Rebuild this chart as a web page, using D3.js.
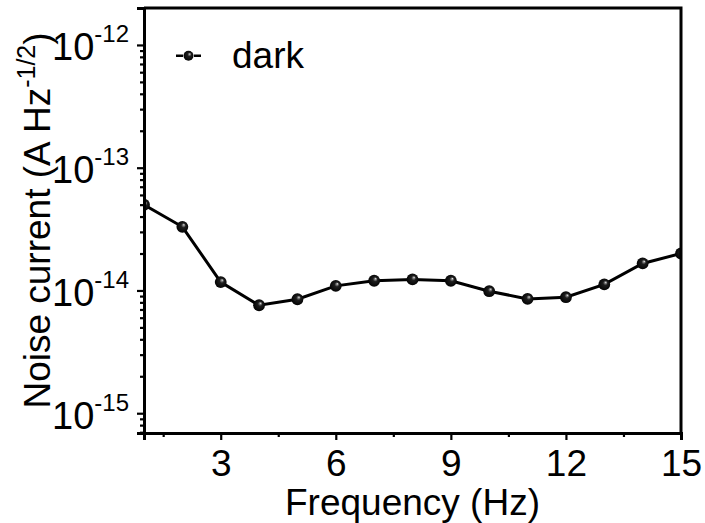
<!DOCTYPE html>
<html>
<head>
<meta charset="utf-8">
<script src="https://cdn.jsdelivr.net/npm/d3@7"></script>
<style>
  body { margin: 0; background: #fff; }
  svg { display: block; font-family: "Liberation Sans", Arial, sans-serif; }
</style>
</head>
<body>
<div id="chart"></div>
<script>
// data
const frequency = [1, 2, 3, 4, 5, 6, 7, 8, 9, 10, 11, 12, 13, 14, 15];
const noiseDark = [4.99e-14, 3.30e-14, 1.17e-14, 7.58e-15, 8.48e-15, 1.09e-14, 1.20e-14, 1.23e-14,
                   1.20e-14, 9.86e-15, 8.53e-15, 8.81e-15, 1.12e-14, 1.66e-14, 2.0e-14];
const xTicks = [3, 6, 9, 12, 15];
const xMinorTicks = [1.5, 4.5, 7.5, 10.5, 13.5];
const yExponents = [-15, -14, -13, -12];
const seriesName = "dark";

// set the dimensions and margins of the graph
const margin = {top: 8, right: 24, bottom: 90, left: 144},
  width = 705 - margin.left - margin.right,
  height = 523 - margin.top - margin.bottom;

const svg = d3.select("#chart")
  .append("svg")
    .attr("width", 705)
    .attr("height", 523);

const g = svg.append("g")
  .attr("transform", `translate(${margin.left},${margin.top})`);

const x = d3.scaleLinear()
  .domain([1, 15])
  .range([0, width]);

const y = d3.scaleLog()
  .domain([6.9e-16, 2.0e-12])
  .range([height, 0]);

// gradient for the shiny ball markers
const defs = svg.append("defs");
const grad = defs.append("radialGradient")
  .attr("id", "ball")
  .attr("cx", "0.5").attr("cy", "0.5").attr("r", "0.55")
  .attr("fx", "0.64").attr("fy", "0.32");
grad.append("stop").attr("offset", "0%").attr("stop-color", "#ffffff");
grad.append("stop").attr("offset", "12%").attr("stop-color", "#8c8c8c");
grad.append("stop").attr("offset", "35%").attr("stop-color", "#1e1e1e");
grad.append("stop").attr("offset", "100%").attr("stop-color", "#000");

defs.append("clipPath").attr("id", "plotclip")
  .append("rect").attr("width", width).attr("height", height);

// line + markers
const line = d3.line()
  .x((d, i) => x(frequency[i]))
  .y(d => y(d));

const plot = g.append("g").attr("clip-path", "url(#plotclip)");
plot.append("path")
  .datum(noiseDark)
  .attr("fill", "none")
  .attr("stroke", "#000")
  .attr("stroke-width", 3)
  .attr("d", line);

plot.selectAll("circle")
  .data(noiseDark)
  .join("circle")
    .attr("cx", (d, i) => x(frequency[i]))
    .attr("cy", d => y(d))
    .attr("r", 5.9)
    .attr("fill", "url(#ball)");

// X axis (major + minor)
const xAxis = g.append("g")
  .attr("transform", `translate(0,${height})`)
  .call(d3.axisBottom(x).tickValues(xTicks).tickSize(7).tickPadding(10).tickFormat(d3.format("d")));
xAxis.append("g")
  .call(d3.axisBottom(x).tickValues(xMinorTicks).tickSize(4).tickFormat(""));
xAxis.selectAll("text")
  .style("font-size", "37px")
  .attr("fill", "#000");

// Y axis (major + minor)
const yMajor = yExponents.map(e => Math.pow(10, e));
const yMinor = [];
[-16, -15, -14, -13, -12].forEach(e => {
  for (let m = 2; m <= 9; m++) {
    const v = m * Math.pow(10, e);
    if (v >= y.domain()[0] && v <= y.domain()[1]) yMinor.push(v);
  }
});

const yAxis = g.append("g")
  .call(d3.axisLeft(y).tickValues(yMajor).tickSize(7).tickPadding(8).tickFormat(""));
yAxis.append("g")
  .call(d3.axisLeft(y).tickValues(yMinor).tickSize(4).tickFormat(""));

yAxis.selectAll(".tick text")
  .filter(d => yMajor.includes(d))
  .attr("dy", 15)
  .attr("fill", "#000")
  .style("font-size", "38px")
  .each(function(d) {
    const t = d3.select(this);
    t.append("tspan").text("10");
    t.append("tspan")
      .attr("dy", -18)
      .style("font-size", "24px")
      .text(Math.round(Math.log10(d)));
  });

g.selectAll(".domain").attr("stroke-width", 3);
g.selectAll(".tick line").attr("stroke-width", 2.2);

// top and right frame
g.append("path")
  .attr("fill", "none")
  .attr("stroke", "#000")
  .attr("stroke-width", 3)
  .attr("d", `M0,0H${width}V${height}`);

// axis titles
g.append("text")
  .attr("x", width / 2)
  .attr("y", height + 82)
  .attr("text-anchor", "middle")
  .style("font-size", "37px")
  .text("Frequency (Hz)");

const yTitle = g.append("text")
  .attr("transform", `translate(${-94},${height / 2}) rotate(-90)`)
  .attr("text-anchor", "middle")
  .style("font-size", "37px");
yTitle.append("tspan").text("Noise current (A Hz");
yTitle.append("tspan").attr("dy", -15).style("font-size", "25px").text("-1/2");
yTitle.append("tspan").attr("dy", 15).text(")");

// legend
const legend = g.append("g")
  .attr("transform", `translate(32,${47.7})`);
legend.append("line")
  .attr("x1", 0).attr("x2", 25)
  .attr("stroke", "#000")
  .attr("stroke-width", 2.6)
  .attr("stroke-dasharray", "7,11,7");
legend.append("circle")
  .attr("cx", 12.5)
  .attr("r", 5)
  .attr("fill", "url(#ball)");
legend.append("text")
  .attr("x", 56)
  .attr("y", 12.5)
  .style("font-size", "37px")
  .text(seriesName);
</script>
</body>
</html>
